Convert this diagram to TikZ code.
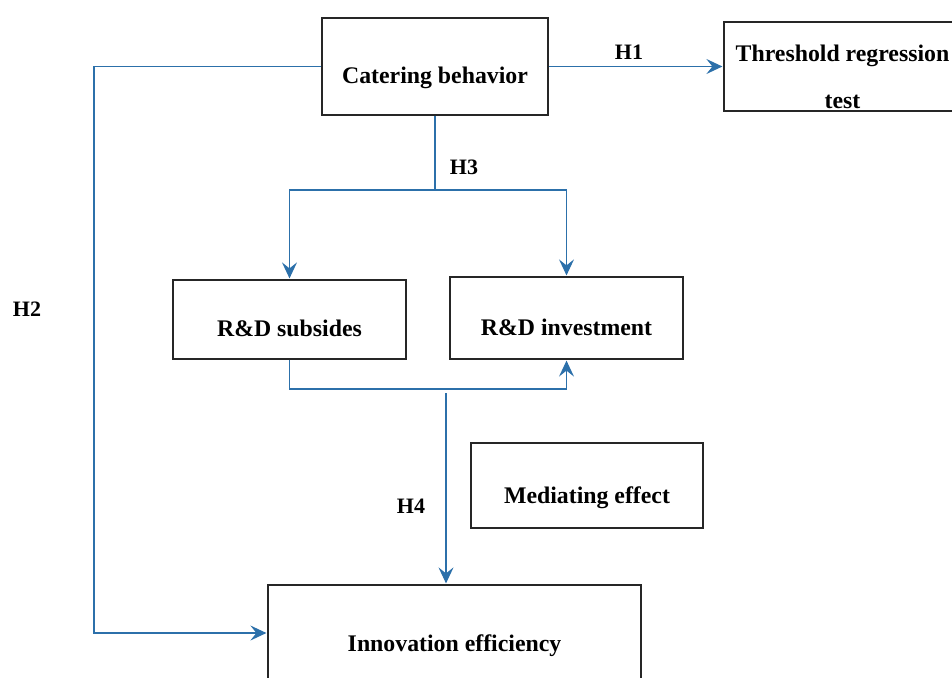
\documentclass[tikz,border=0pt]{standalone}
\usepackage{fontspec}
\setmainfont{Liberation Serif}
\usetikzlibrary{arrows.meta}
\definecolor{linkblue}{RGB}{44,112,170}
\tikzset{
  box/.style={draw=black!85, line width=1.2pt, inner sep=0pt,
    font=\fontsize{23.8}{28}\selectfont\bfseries, text height=39pt, text depth=5pt},
  link/.style={draw=linkblue, line width=1.2pt},
  tip/.style={-{Stealth[length=16pt,width=15pt,inset=6pt]}, shorten >=1pt},
  hyp/.style={font=\fontsize{22}{24}\selectfont\bfseries},
}
\begin{document}
\begin{tikzpicture}[x=1pt,y=-1pt]
  \useasboundingbox (0,0) rectangle (952,677);

  \node[box, minimum width=226, minimum height=97] (cater) at (435,66.5) {Catering behavior};
  \node[box, minimum width=237, minimum height=89, align=center,
    font=\fontsize{23.8}{47}\selectfont\bfseries, text height=86pt, text depth=3pt] (thresh) at (842.5,66.5)
    {Threshold regression\\test};
  \node[box, minimum width=233, minimum height=79] (subs) at (289.5,319.5) {R\&D subsides};
  \node[box, minimum width=233, minimum height=82] (invest) at (566.5,318) {R\&D investment};
  \node[box, minimum width=232, minimum height=85, text height=41pt] (mediate) at (587,485.5) {Mediating effect};
  \node[box, minimum width=373, minimum height=116, text height=22pt] (innov) at (454.5,643) {Innovation efficiency};

  \node[hyp] (hone) at (629,52) {H1};
  \node[hyp] (htwo) at (27,309) {H2};
  \node[hyp] (hthree) at (464,167) {H3};
  \node[hyp] (hfour) at (411,506) {H4};

  \coordinate (bend) at (94,633);
  \coordinate (fork) at (435,190);
  \coordinate (join) at (289.5,389);
  \coordinate (drop) at (446,393);

  \draw[link, tip] (cater.east) -- (thresh.west);
  \draw[link, tip] (cater.west) -| (bend) -- (bend -| innov.west);
  \draw[link] (cater.south) -- (fork);
  \draw[link, tip] (fork) -| (subs.north);
  \draw[link, tip] (fork) -| (invest.north);
  \draw[link, tip] (subs.south) -- (join) -| (invest.south);
  \draw[link, tip] (drop) -- (drop |- innov.north);
\end{tikzpicture}
\end{document}
